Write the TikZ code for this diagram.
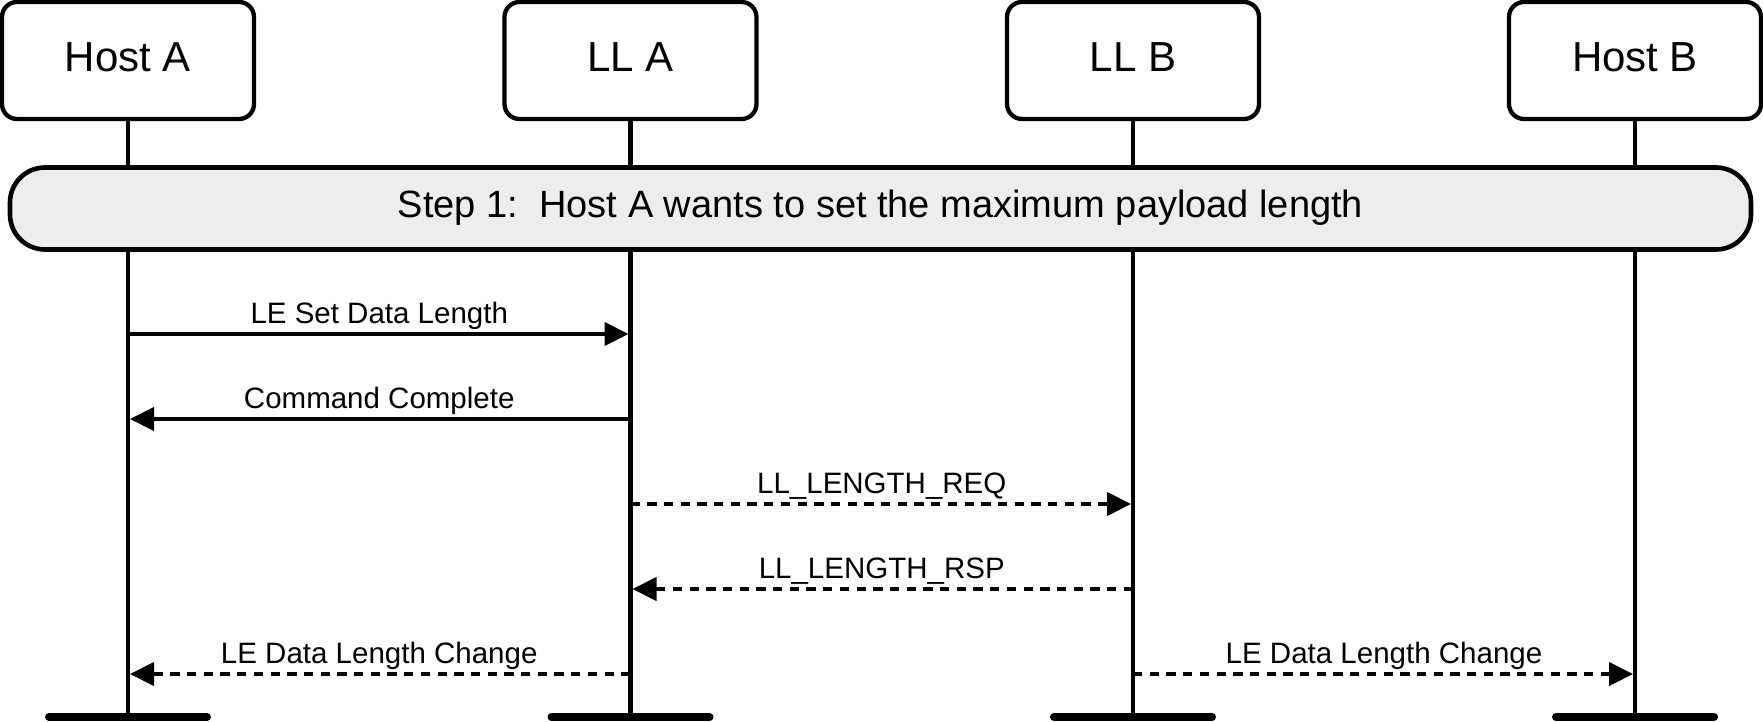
\documentclass[tikz,border=0pt]{standalone}
\usepackage{fontspec}
\setmainfont{Liberation Sans}
\usetikzlibrary{arrows.meta}
\definecolor{stepgray}{HTML}{EDEDED}
\begin{document}
\begin{tikzpicture}[x=1pt,y=-1pt,
  actor/.style={draw, line width=4.3pt, rounded corners=15pt, minimum width=252pt,
    minimum height=117pt, inner sep=0pt, fill=white,
    font=\fontsize{42}{50}\selectfont, text height=30pt, text depth=7pt},
  stepbox/.style={draw, line width=4.6pt, rounded corners=35pt, fill=stepgray,
    minimum width=1741pt, minimum height=82pt, inner sep=0pt,
    font=\fontsize{38}{46}\selectfont, text height=27pt, text depth=10pt},
  life/.style={line width=4.3pt},
  bar/.style={line width=8pt, line cap=round},
  msg/.style={line width=4.3pt, -{Triangle[length=24pt,width=23pt]}, shorten >=2pt},
  reply/.style={msg, dash pattern=on 9.3pt off 7.4pt},
  lbl/.style={midway, anchor=base, yshift=10.5pt, inner sep=0pt,
    font=\fontsize{29.5}{34}\selectfont}
]
\useasboundingbox (0,0) rectangle (1763,722);

% actors
\node[actor] (hA) at (128,60.5) {Host A};
\node[actor] (lA) at (630.5,60.5) {LL A};
\node[actor] (lB) at (1133,60.5) {LL B};
\node[actor] (hB) at (1635,60.5) {Host B};

% lifeline ends
\coordinate (eA) at (128,717);
\coordinate (eLA) at (630.5,717);
\coordinate (eLB) at (1133,717);
\coordinate (eB) at (1635,717);

% lifelines
\draw[life] (hA.south) -- (eA);
\draw[life] (lA.south) -- (eLA);
\draw[life] (lB.south) -- (eLB);
\draw[life] (hB.south) -- (eB);

% end bars
\draw[bar] ([xshift=-79pt]eA) -- ([xshift=79pt]eA);
\draw[bar] ([xshift=-79pt]eLA) -- ([xshift=79pt]eLA);
\draw[bar] ([xshift=-79pt]eLB) -- ([xshift=79pt]eLB);
\draw[bar] ([xshift=-79pt]eB) -- ([xshift=79pt]eB);

% step box
\node[stepbox] (s1) at (880.5,208.5) {Step 1:\ \ Host A wants to set the maximum payload length};

% message points
\coordinate (a1) at (128,334);   \coordinate (la1) at (630.5,334);
\coordinate (a2) at (128,419);   \coordinate (la2) at (630.5,419);
\coordinate (la3) at (630.5,504); \coordinate (lb3) at (1133,504);
\coordinate (la4) at (630.5,589); \coordinate (lb4) at (1133,589);
\coordinate (a5) at (128,674);   \coordinate (la5) at (630.5,674);
\coordinate (lb5) at (1133,674); \coordinate (b5) at (1635,674);

% messages
\draw[msg] (a1) -- (la1) node[lbl] {LE Set Data Length};
\draw[msg] (la2) -- (a2) node[lbl] {Command Complete};
\draw[reply] (la3) -- (lb3) node[lbl] {LL\_LENGTH\_REQ};
\draw[reply] (lb4) -- (la4) node[lbl] {LL\_LENGTH\_RSP};
\draw[reply] (la5) -- (a5) node[lbl] {LE Data Length Change};
\draw[reply] (lb5) -- (b5) node[lbl] {LE Data Length Change};
\end{tikzpicture}
\end{document}
